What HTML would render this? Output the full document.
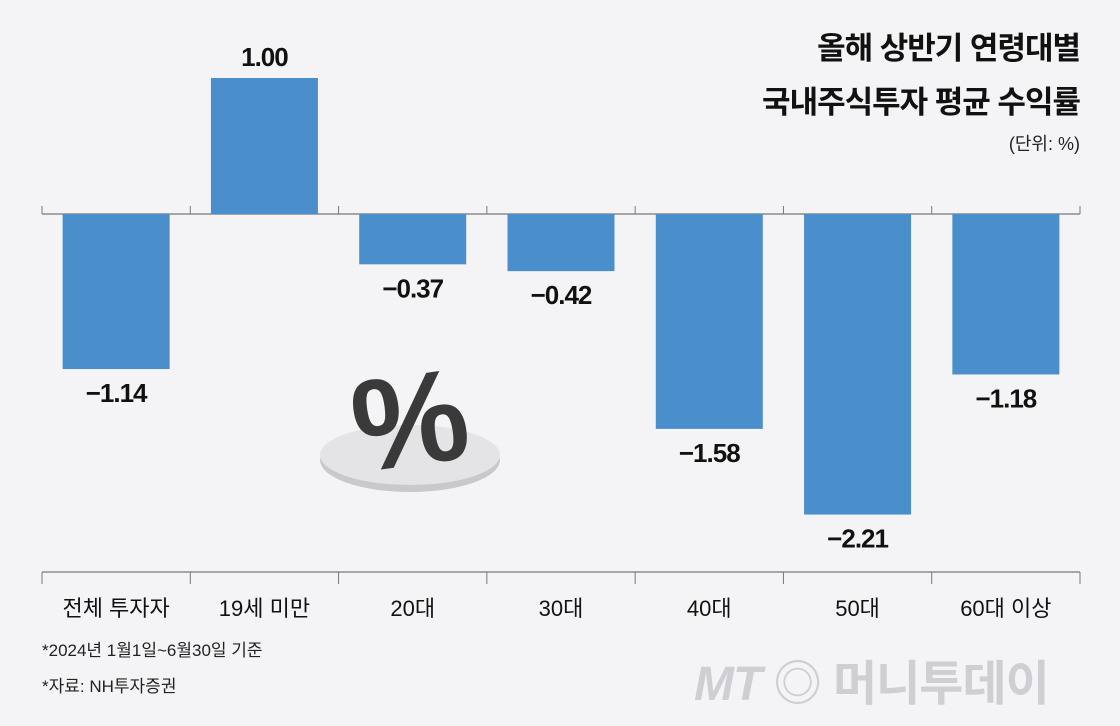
<!DOCTYPE html>
<html><head><meta charset="utf-8">
<style>
html,body{margin:0;padding:0;background:#f4f4f6;}
#c{position:relative;width:1120px;height:726px;background:#f4f4f6;font-family:"Liberation Sans","Noto Sans CJK KR",sans-serif;overflow:hidden;}
.t{position:absolute;right:40px;font-weight:bold;font-size:31px;color:#111;letter-spacing:-1px;text-align:right;}
</style></head><body>
<div id="c">
<div class="t" style="top:23px">올해 상반기 연령대별</div>
<div class="t" style="top:77px">국내주식투자 평균 수익률</div>
<div style="position:absolute;right:40px;top:130px;font-size:18px;color:#222">(단위: %)</div>
<svg id="s" width="1120" height="726" style="position:absolute;left:0;top:0">
<g>
<ellipse cx="410" cy="460" rx="90" ry="32" fill="#c9c9cd"/>
<ellipse cx="410" cy="455" rx="90" ry="30" fill="#e4e4e7"/>
<text x="410" y="465" text-anchor="middle" font-size="130" font-weight="bold" fill="#3a3a3a" font-family="Liberation Sans" transform="rotate(-8 410 420)">%</text>
</g>
</svg>
<div style="position:absolute;left:42px;top:636px;font-size:17px;color:#222">*2024년 1월1일~6월30일 기준</div>
<div style="position:absolute;left:42px;top:672px;font-size:17px;color:#222">*자료: NH투자증권</div>
<div style="position:absolute;left:694px;top:644px;font-size:48px;color:#cfcfd3;font-weight:bold;letter-spacing:-1px"><i>MT</i> ◎ 머니투데이</div>
</div>
<script>
const categories=["전체 투자자","19세 미만","20대","30대","40대","50대","60대 이상"];
const values=[-1.14,1.00,-0.37,-0.42,-1.58,-2.21,-1.18];
const valueLabels=["−1.14","1.00","−0.37","−0.42","−1.58","−2.21","−1.18"];
const NS="http://www.w3.org/2000/svg";
const svg=document.getElementById('s');
const x0=42,x1=1080,zeroY=214,scale=136,axisY=572;
const bw=(x1-x0)/categories.length;
const y=v=>zeroY-v*scale;
function el(t,a){const e=document.createElementNS(NS,t);for(const k in a)e.setAttribute(k,a[k]);svg.appendChild(e);return e;}
let zl=el('line',{x1:x0,x2:x1,y1:zeroY,y2:zeroY,stroke:'#777','stroke-width':1.2});


let al=el('line',{x1:x0,x2:x1,y1:axisY,y2:axisY,stroke:'#777','stroke-width':1.2});


for(let i=0;i<=categories.length;i++){
 const tx=x0+i*bw;
 const t1=el('line',{x1:tx,x2:tx,y1:zeroY-8,y2:zeroY,stroke:'#777'});
 
 
 const t2=el('line',{x1:tx,x2:tx,y1:axisY,y2:axisY+12,stroke:'#777'});
 
 
}
categories.forEach((c,i)=>{
 const cx=x0+(i+0.5)*bw,v=values[i];
 const top=Math.min(y(v),zeroY),h=Math.abs(y(v)-zeroY);
 const r=el('rect',{x:cx-53.5,y:top,width:107,height:h,fill:'#4a8fcc'});
 
 
 const lt=el('text',{x:cx,y:v>=0?y(v)-12:y(v)+33,'text-anchor':'middle','font-size':26,'font-weight':'bold',fill:'#111','letter-spacing':'-1'});
 lt.textContent=valueLabels[i];
 
 
 const ct=el('text',{x:cx,y:616,'text-anchor':'middle','font-size':22,fill:'#111'});
 ct.textContent=c;
 
 
});
</script>
</body></html>
